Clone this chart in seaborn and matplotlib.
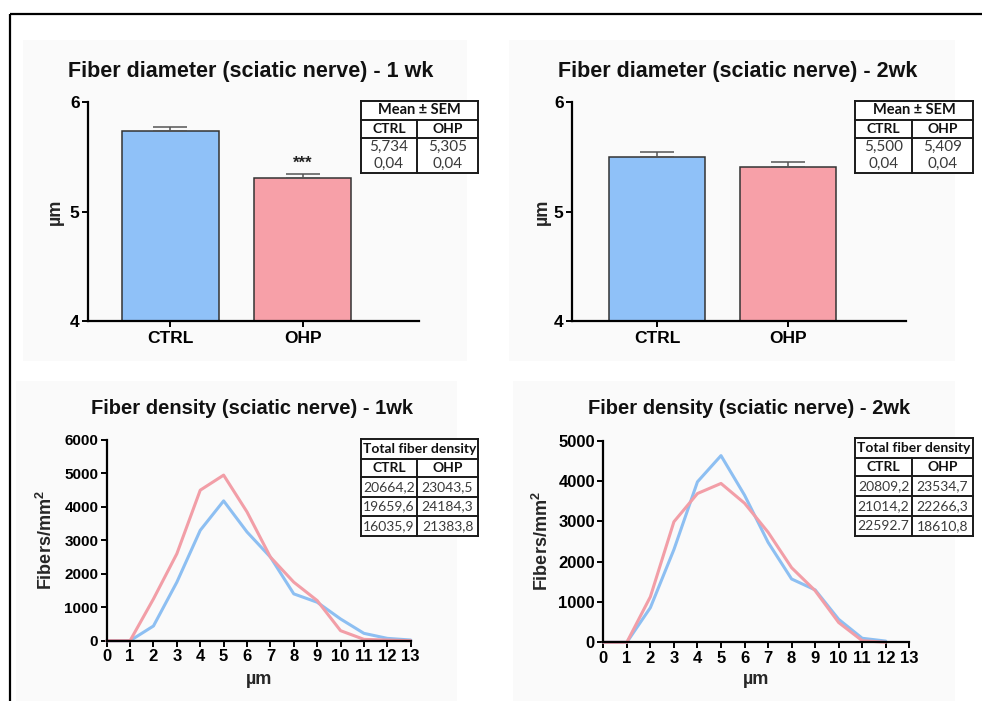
import matplotlib
matplotlib.use("Agg")
import matplotlib.pyplot as plt
import seaborn as sns
import pandas as pd
import numpy as np

# ---------------- data ----------------
groups = ["CTRL", "OHP"]
mean_1wk = [5.734, 5.305]
sem_1wk = [0.04, 0.04]
mean_2wk = [5.500, 5.409]
sem_2wk = [0.04, 0.04]

table_mean_1wk = [["5,734", "5,305"], ["0,04", "0,04"]]
table_mean_2wk = [["5,500", "5,409"], ["0,04", "0,04"]]

um_1wk = list(range(0, 14))
ctrl_dens_1wk = [0, 0, 440, 1750, 3300, 4180, 3250, 2500, 1400, 1150, 650, 220, 70, 20]
ohp_dens_1wk = [0, 0, 1250, 2600, 4500, 4950, 3850, 2500, 1750, 1200, 300, 40, 20, 0]

um_2wk = list(range(0, 13))
ctrl_dens_2wk = [0, 0, 860, 2300, 3980, 4630, 3650, 2480, 1570, 1300, 570, 100, 30]
ohp_dens_2wk = [0, 0, 1130, 2990, 3690, 3940, 3450, 2730, 1850, 1280, 490, 40, 0]

table_dens_1wk = [["20664,2", "23043,5"], ["19659,6", "24184,3"], ["16035,9", "21383,8"]]
table_dens_2wk = [["20809,2", "23534,7"], ["21014,2", "22266,3"], ["22592.7", "18610,8"]]

# ---------------- style ----------------
sns.set_theme(style="ticks")
plt.rcParams["font.family"] = ["Liberation Sans", "DejaVu Sans"]
plt.rcParams["mathtext.fontset"] = "custom"
plt.rcParams["mathtext.rm"] = "Liberation Sans"
plt.rcParams["mathtext.bf"] = "Liberation Sans:bold"

BLUE = "#8fc1f8"
RED = "#f7a0a8"
LBLUE = "#8dbff2"
LRED = "#f29ea7"
TFONT = ["Lato", "DejaVu Sans"]

W, H = 982, 701
fig = plt.figure(figsize=(W / 100, H / 100), dpi=100)
fig.patch.set_facecolor("white")


def rect(l, t, r, b):
    return [l / W, 1 - b / H, (r - l) / W, (b - t) / H]


# background overlay for panels and frame
bg = fig.add_axes([0, 0, 1, 1], zorder=0)
bg.set_xlim(0, W)
bg.set_ylim(H, 0)
bg.axis("off")
for (l, t, r, b) in [(23, 40, 467, 361), (509, 40, 955, 361), (16, 381, 457, 701), (513, 381, 955, 701)]:
    bg.add_patch(plt.Rectangle((l, t), r - l, b - t, facecolor="#fafafa", edgecolor="none"))
bg.plot([10, W], [14, 14], color="black", lw=1.6, solid_capstyle="butt")
bg.plot([10, 10], [14, H], color="black", lw=1.6, solid_capstyle="butt")


def style_axes(ax):
    ax.set_facecolor("none")
    for s in ["top", "right"]:
        ax.spines[s].set_visible(False)
    for s in ["left", "bottom"]:
        ax.spines[s].set_linewidth(1.6)
        ax.spines[s].set_color("black")
    ax.tick_params(axis="both", direction="out", length=4, width=1.4, color="black",
                   labelcolor="black", pad=2)


def bar_panel(l, t, r, b, means, sems, xlim, title, title_xy, ylab_x, stars=None):
    ax = fig.add_axes(rect(l, t, r, b), zorder=2)
    df = pd.DataFrame({"group": groups, "mean": means})
    sns.barplot(data=df, x="group", y="mean", hue="group", palette=[BLUE, RED],
                saturation=1, width=0.735, edgecolor="#333333", linewidth=1.1,
                errorbar=None, legend=False, ax=ax)
    ax.errorbar(range(len(groups)), means, yerr=[[0] * len(sems), sems], fmt="none",
                ecolor="#555555", elinewidth=1.1, capsize=12, capthick=1.1, zorder=3)
    ax.set_ylim(4, 6)
    ax.set_xlim(*xlim)
    ax.set_yticks([4, 5, 6])
    ax.set_yticklabels(["4", "5", "6"], fontsize=12.5, fontweight="bold")
    ax.set_xticks(range(len(groups)))
    ax.set_xticklabels(groups, fontsize=12.5, fontweight="bold")
    ax.set_xlabel("")
    ax.set_ylabel("")
    style_axes(ax)
    ax.tick_params(axis="x", pad=3)
    if stars:
        i = 1
        ax.text(i, means[i] + sems[i] + 0.025, stars, ha="center", va="bottom",
                fontsize=12, fontweight="bold", color="#222222")
    fig.text(title_xy[0] / W, 1 - title_xy[1] / H, title, ha="center", va="center",
             fontsize=15.5, fontweight="bold", color="#111111")
    fig.text(ylab_x / W, 1 - ((t + b) / 2) / H, "µm", rotation=90, ha="center",
             va="center", fontsize=13, fontweight="bold")
    return ax


def line_panel(l, t, r, b, x, ctrl, ohp, ymax, title, title_xy, ylab_x, xlab_y, ytick_fs):
    ax = fig.add_axes(rect(l, t, r, b), zorder=2)
    df = pd.DataFrame({"um": list(x) * 2, "dens": list(ctrl) + list(ohp),
                       "group": ["CTRL"] * len(x) + ["OHP"] * len(x)})
    sns.lineplot(data=df, x="um", y="dens", hue="group", palette=[LBLUE, LRED],
                 hue_order=["CTRL", "OHP"], linewidth=2.2, legend=False, ax=ax,
                 errorbar=None)
    ax.set_xlim(0, 13)
    ax.set_ylim(0, ymax)
    ax.set_xticks(range(0, 14))
    ax.set_xticklabels([str(i) for i in range(0, 14)], fontsize=12, fontweight="bold")
    yt = list(range(0, ymax + 1, 1000))
    ax.set_yticks(yt)
    ax.set_yticklabels([str(v) for v in yt], fontsize=ytick_fs, fontweight="bold")
    ax.set_xlabel("")
    ax.set_ylabel("")
    style_axes(ax)
    for ln in ax.lines:
        ln.set_clip_on(False)
    fig.text(title_xy[0] / W, 1 - title_xy[1] / H, title, ha="center", va="center",
             fontsize=14.5, fontweight="bold", color="#111111")
    fig.text(ylab_x / W, 1 - ((t + b) / 2) / H, r"Fibers/mm$^{\mathbf{2}}$", rotation=90,
             ha="center", va="center", fontsize=13, fontweight="bold")
    fig.text(((l + r) / 2) / W, 1 - xlab_y / H, "µm", ha="center", va="center",
             fontsize=13, fontweight="bold")
    return ax


bar_panel(88, 102, 419, 321, mean_1wk, sem_1wk, (-0.621, 1.879),
          "Fiber diameter (sciatic nerve) - 1 wk", (251, 71), 55, stars="***")
bar_panel(572, 102, 906, 321, mean_2wk, sem_2wk, (-0.649, 1.90),
          "Fiber diameter (sciatic nerve) - 2wk", (738, 71), 542)
line_panel(106.7, 440, 410.7, 640.7, um_1wk, ctrl_dens_1wk, ohp_dens_1wk, 6000,
           "Fiber density (sciatic nerve) - 1wk", (252, 408), 46, 679, 11)
line_panel(603.3, 440.7, 909.3, 642.3, um_2wk, ctrl_dens_2wk, ohp_dens_2wk, 5000,
           "Fiber density (sciatic nerve) - 2wk", (749, 408), 542, 679, 12)

# ---------------- tables ----------------
ov = fig.add_axes([0, 0, 1, 1], zorder=5)
ov.set_xlim(0, W)
ov.set_ylim(H, 0)
ov.axis("off")
ov.patch.set_alpha(0)

LC = "#1a1a1a"
LW = 1.4


def hline(x0, x1, y):
    ov.plot([x0, x1], [y, y], color=LC, lw=LW, solid_capstyle="projecting")


def vline(x, y0, y1):
    ov.plot([x, x], [y0, y1], color=LC, lw=LW, solid_capstyle="projecting")


def mean_table(x0, xm, x1, ys, values):
    y0, y1, y2, y3 = ys
    ov.add_patch(plt.Rectangle((x0, y0), x1 - x0, y3 - y0, facecolor="white", edgecolor="none"))
    for y in ys:
        hline(x0, x1, y)
    vline(x0, y0, y3)
    vline(x1, y0, y3)
    vline(xm, y1, y3)
    ov.text((x0 + x1) / 2, (y0 + y1) / 2, "Mean ± SEM", ha="center", va="center",
            fontsize=10.5, fontweight="bold", family=TFONT, color="#111111")
    for cx, lab in zip([(x0 + xm) / 2, (xm + x1) / 2], groups):
        ov.text(cx, (y1 + y2) / 2, lab, ha="center", va="center", fontsize=10,
                fontweight="bold", family=TFONT, color="#111111")
    h = (y3 - y2) / 2
    for r, row in enumerate(values):
        for cx, v in zip([(x0 + xm) / 2, (xm + x1) / 2], row):
            ov.text(cx, y2 + h * (r + 0.5), v, ha="center", va="center", fontsize=11,
                    family=TFONT, color="#3a3a3a")


def dens_table(x0, xm, x1, ys, values):
    ov.add_patch(plt.Rectangle((x0, ys[0]), x1 - x0, ys[-1] - ys[0], facecolor="white",
                               edgecolor="none"))
    for y in ys:
        hline(x0, x1, y)
    vline(x0, ys[0], ys[-1])
    vline(x1, ys[0], ys[-1])
    vline(xm, ys[1], ys[-1])
    ov.text((x0 + x1) / 2, (ys[0] + ys[1]) / 2, "Total fiber density", ha="center",
            va="center", fontsize=10, fontweight="bold", family=TFONT, color="#111111")
    for cx, lab in zip([(x0 + xm) / 2, (xm + x1) / 2], groups):
        ov.text(cx, (ys[1] + ys[2]) / 2, lab, ha="center", va="center", fontsize=10,
                fontweight="bold", family=TFONT, color="#111111")
    for r, row in enumerate(values):
        for cx, v in zip([(x0 + xm) / 2, (xm + x1) / 2], row):
            ov.text(cx, (ys[r + 2] + ys[r + 3]) / 2, v, ha="center", va="center",
                    fontsize=10, family=TFONT, color="#3a3a3a")


mean_table(361, 417, 478, [101, 120, 138, 173], table_mean_1wk)
mean_table(855, 912, 973, [101, 120, 138, 173], table_mean_2wk)
dens_table(361, 417, 478, [439, 459, 477, 497, 516, 536], table_dens_1wk)
dens_table(855, 912, 973, [438, 458, 476, 496, 516, 536], table_dens_2wk)

fig.savefig("out.png", dpi=100)
